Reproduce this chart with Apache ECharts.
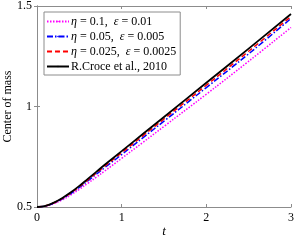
<!DOCTYPE html>
<html><head><meta charset="utf-8">
<script src="https://cdn.jsdelivr.net/npm/echarts@6/dist/echarts.min.js"></script>
<style>html,body{margin:0;padding:0;background:#fff}#c{width:294px;height:240px}</style>
</head><body><div id="c"></div>
<script>
const tValues = [0, 0.1, 0.2, 0.3, 0.4, 0.5, 0.6, 0.7, 0.8, 1, 1.25, 1.5, 2, 2.5, 3];
const seriesNames = ['η = 0.1,  ε = 0.01', 'η = 0.05,  ε = 0.005', 'η = 0.025,  ε = 0.0025', 'R.Croce et al., 2010'];
const eta01 = [0.5, 0.504, 0.517, 0.536, 0.560, 0.588, 0.618, 0.648, 0.679, 0.742, 0.821, 0.901, 1.061, 1.225, 1.393];
const eta005 = [0.5, 0.505, 0.520, 0.541, 0.567, 0.597, 0.630, 0.663, 0.696, 0.761, 0.844, 0.927, 1.094, 1.262, 1.438];
const eta0025 = [0.5, 0.506, 0.521, 0.543, 0.570, 0.601, 0.635, 0.669, 0.703, 0.770, 0.854, 0.938, 1.106, 1.275, 1.448];
const croce = [0.5, 0.506, 0.522, 0.545, 0.573, 0.605, 0.640, 0.675, 0.710, 0.778, 0.863, 0.948, 1.118, 1.288, 1.460];
const xTicks = [0, 1, 2, 3];
const yTicks = [0.5, 1, 1.5];

const pair = arr => tValues.map((t, i) => [t, arr[i]]);
const FONT = 'Liberation Serif';
const axisCol = '#8c8c8c';
const chart = echarts.init(document.getElementById('c'));
const styles = [
  {color: '#ff00ff', type: [1.5, 1.5], width: 1.5},
  {color: '#0000ff', type: [6, 2, 1.5, 2], width: 1.5},
  {color: '#ff0000', type: [5, 3], width: 1.5},
  {color: '#000000', type: 'solid', width: 1.8}
];
const datas = [eta01, eta005, eta0025, croce];
function fmt(name) {
  return name.replace(/η/g, '{i|η}').replace(/ε/g, '{i|ε}');
}
chart.setOption({
  animation: false,
  grid: {left: 37, right: 3, top: 6, bottom: 33, containLabel: false, outerBoundsMode: 'none'},
  legend: {
    left: 44, top: 12, orient: 'vertical',
    itemWidth: 22, itemHeight: 2, itemGap: 2,
    padding: [3, 4, 2, 2],
    borderColor: '#8c8c8c', borderWidth: 1, backgroundColor: '#fff',
    formatter: fmt,
    textStyle: {fontFamily: FONT, fontSize: 12, lineHeight: 13, color: '#000', padding: [0,0,0,-3],
      rich: {i: {fontFamily: FONT, fontSize: 12, lineHeight: 13, fontStyle: 'italic', color: '#000'}}},
    data: seriesNames
  },
  xAxis: [{
    type: 'value', min: 0, max: 3, interval: 1,
    axisLine: {lineStyle: {color: axisCol}},
    axisTick: {inside: true, length: 3, lineStyle: {color: axisCol}},
    axisLabel: {color: '#000', fontFamily: FONT, fontSize: 12, margin: 5, formatter: v => xTicks.includes(v) ? String(v) : ''},
    splitLine: {show: false},
    name: 't', nameLocation: 'middle', nameGap: 18, nameMoveOverlap: false,
    nameTextStyle: {fontFamily: FONT, fontStyle: 'italic', fontSize: 13, color: '#000'}
  }, {
    type: 'value', min: 0, max: 3, interval: 1, position: 'top',
    axisLine: {show: true, lineStyle: {color: axisCol}},
    axisTick: {inside: true, length: 3, lineStyle: {color: axisCol}},
    axisLabel: {show: false}, splitLine: {show: false}
  }],
  yAxis: [{
    type: 'value', min: 0.5, max: 1.5, interval: 0.5,
    axisLine: {show: true, lineStyle: {color: axisCol}},
    axisTick: {show: true, inside: true, length: 3, lineStyle: {color: axisCol}},
    axisLabel: {color: '#000', fontFamily: FONT, fontSize: 12, margin: 5, formatter: v => yTicks.includes(v) ? String(v) : ''},
    splitLine: {show: false},
    name: 'Center of mass', nameLocation: 'middle', nameGap: 23, nameMoveOverlap: false,
    nameTextStyle: {fontFamily: FONT, fontSize: 12, color: '#000'}
  }, {
    type: 'value', min: 0.5, max: 1.5, interval: 0.5, position: 'right',
    axisLine: {show: true, lineStyle: {color: axisCol}},
    axisTick: {show: true, inside: true, length: 3, lineStyle: {color: axisCol}},
    axisLabel: {show: false}, splitLine: {show: false}
  }],
  series: datas.map((d, i) => ({
    name: seriesNames[i], type: 'line', data: pair(d), smooth: 0.4,
    showSymbol: false, symbol: 'none', z: 2 + i,
    itemStyle: {color: styles[i].color},
    lineStyle: styles[i]
  }))
});
</script></body></html>
